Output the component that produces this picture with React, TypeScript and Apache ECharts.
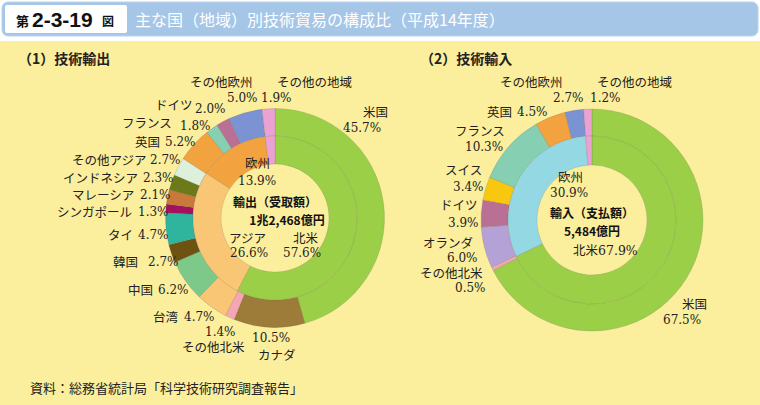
import React, { useEffect, useRef } from "react";
import * as echarts from "echarts";

// ---- data ----
const exportOuterNames = ["米国", "カナダ", "その他北米", "台湾", "中国", "韓国", "タイ", "シンガポール", "マレーシア", "インドネシア", "その他アジア", "英国", "フランス", "ドイツ", "その他欧州", "その他の地域"];
const exportOuterValues = [45.7, 10.5, 1.4, 4.7, 6.2, 2.7, 4.7, 1.3, 2.1, 2.3, 2.7, 5.2, 1.8, 2.0, 5.0, 1.9];
const exportInnerNames = ["北米", "アジア", "欧州", "その他の地域"];
const exportInnerValues = [57.6, 26.6, 13.9, 1.9];
const exportTotal = "1兆2,468億円";

const importOuterNames = ["米国", "その他北米", "オランダ", "ドイツ", "スイス", "フランス", "英国", "その他欧州", "その他の地域"];
const importOuterValues = [67.5, 0.5, 6.0, 3.9, 3.4, 10.3, 4.5, 2.7, 1.2];
const importInnerNames = ["北米", "欧州", "その他の地域"];
const importInnerValues = [67.9, 30.9, 1.2];
const importTotal = "5,484億円";

// ---- styles ----
const exportOuterColors = ["#9BCF47", "#9C7C38", "#F4A6B4", "#F9C676", "#7DC98A", "#6E5212", "#2FB49E", "#A2125E", "#C9793A", "#6C7A1A", "#DCF0DC", "#F2A23E", "#86CFB3", "#BA7095", "#7B93D2", "#EBA2D2"];
const exportInnerColors = ["#9BCF47", "#F9C676", "#F2A23E", "#EBA2D2"];
const importOuterColors = ["#9BCF47", "#F4A6B4", "#B4A2D6", "#BA7095", "#F8C810", "#86CFB3", "#F2A23E", "#7B93D2", "#EBA2D2"];
const importInnerColors = ["#9BCF47", "#94D8E4", "#EBA2D2"];

// label positions: [nameX, nameY, valueX, valueY]
const exportOuterLabelPos: number[][] = [
  [363, 112, 343, 128],
  [258, 355, 252, 338],
  [182, 347, 205, 332],
  [153, 317, 184, 317],
  [128, 290, 158, 290],
  [113, 262, 148, 262],
  [108, 235, 138, 235],
  [57, 212, 138, 212],
  [72, 195, 140, 195],
  [63, 178, 143, 178],
  [72, 160, 150, 160],
  [135, 142, 165, 142],
  [122, 123, 180, 126],
  [155, 105, 195, 109],
  [190, 82, 227, 98],
  [277, 82, 261, 98],
];
const exportInnerLabelPos: (number[] | null)[] = [
  [293, 238, 283, 253],
  [229, 238, 230, 253],
  [245, 163, 238, 181],
  null,
];
const importOuterLabelPos: number[][] = [
  [682, 304, 663, 320],
  [420, 273, 455, 288],
  [423, 243, 447, 258],
  [440, 205, 448, 223],
  [445, 170, 453, 187],
  [455, 131, 465, 147],
  [487, 112, 517, 112],
  [500, 82, 553, 98],
  [597, 82, 590, 98],
];

const LABEL_FONT = "'DejaVu Serif','Noto Sans CJK JP',serif";
const SANS_FONT = "'Noto Sans CJK JP','Noto Sans',sans-serif";
const LABEL_COLOR = "#222";

function txt(text: string, x: number, y: number, opts: any = {}) {
  const align = opts.align || "left";
  const fs = opts.fontSize || 12.5;
  return {
    type: "text",
    x,
    y,
    z: 100,
    silent: true,
    style: {
      text,
      fill: opts.fill || LABEL_COLOR,
      fontSize: fs,
      lineHeight: fs + 1,
      fontFamily: opts.fontFamily || LABEL_FONT,
      fontWeight: opts.fontWeight || "normal",
      textAlign: align,
      align,
      textVerticalAlign: "middle",
      verticalAlign: "middle",
    },
  };
}

const pct = (v: number) => `${v.toFixed(1)}%`;
const VAL = { fontSize: 12 };

function pieSeries(names: string[], values: number[], colors: string[], center: number[], radius: number[]) {
  return {
    type: "pie",
    center,
    radius,
    startAngle: 90,
    clockwise: true,
    silent: true,
    avoidLabelOverlap: false,
    label: { show: false },
    labelLine: { show: false },
    emphasis: { disabled: true },
    itemStyle: { borderColor: "rgba(90,90,90,0.35)", borderWidth: 0.5 },
    data: names.map((n, i) => ({ name: n, value: values[i], itemStyle: { color: colors[i] } })),
  };
}

export default function App() {
  const ref = useRef<HTMLDivElement>(null);
  useEffect(() => {
    if (!ref.current) return;
    const chart = echarts.init(ref.current, undefined, { renderer: "svg" });
    const centerStyle = { fontFamily: SANS_FONT, fontSize: 12, fontWeight: "bold", align: "center", fill: "#111" };

    const graphics: any[] = [
      { type: "rect", z: -10, silent: true, shape: { x: 0, y: 41, width: 760, height: 364 }, style: { fill: "#FBEE9C" } },
      { type: "rect", z: -10, silent: true, shape: { x: 2, y: 2, width: 756, height: 34, r: 6 }, style: { fill: "#A6C6E8", stroke: "#B8D4EE", lineWidth: 1 } },
      { type: "rect", z: -9, silent: true, shape: { x: 5, y: 5, width: 122, height: 28, r: 2 }, style: { fill: "#FFFFFF" } },
      txt("第", 16, 20, { fontFamily: SANS_FONT, fontSize: 13, fontWeight: "bold", fill: "#111" }),
      txt("2-3-19", 32, 19, { fontFamily: "'Liberation Sans',Arial,sans-serif", fontSize: 21, fontWeight: "bold", fill: "#111" }),
      txt("図", 102, 20, { fontFamily: SANS_FONT, fontSize: 12, fontWeight: "bold", fill: "#111" }),
      txt("主な国（地域）別技術貿易の構成比（平成14年度）", 135, 19, { fontFamily: SANS_FONT, fontSize: 16, fill: "#FFFFFF" }),
      txt("（1）技術輸出", 18, 58, { fontFamily: SANS_FONT, fontSize: 14, fontWeight: "bold", fill: "#222" }),
      txt("（2）技術輸入", 420, 58, { fontFamily: SANS_FONT, fontSize: 14, fontWeight: "bold", fill: "#222" }),
      txt("資料：総務省統計局「科学技術研究調査報告」", 30, 387, { fontFamily: SANS_FONT, fontSize: 13, fill: "#222" }),
      // centers
      txt("輸出（受取額）", 275, 201, centerStyle),
      txt(exportTotal, 287, 219, centerStyle),
      txt("輸入（支払額）", 592, 212, centerStyle),
      txt(importTotal, 592, 230, centerStyle),
    ];

    exportOuterNames.forEach((n, i) => {
      const p = exportOuterLabelPos[i];
      graphics.push(txt(n, p[0], p[1]));
      graphics.push(txt(pct(exportOuterValues[i]), p[2], p[3], VAL));
    });
    exportInnerNames.forEach((n, i) => {
      const p = exportInnerLabelPos[i];
      if (!p) return;
      graphics.push(txt(n, p[0], p[1]));
      graphics.push(txt(pct(exportInnerValues[i]), p[2], p[3], VAL));
    });
    importOuterNames.forEach((n, i) => {
      const p = importOuterLabelPos[i];
      graphics.push(txt(n, p[0], p[1]));
      graphics.push(txt(pct(importOuterValues[i]), p[2], p[3], VAL));
    });
    graphics.push(txt(importInnerNames[1], 558, 177));
    graphics.push(txt(pct(importInnerValues[1]), 550, 193, VAL));
    graphics.push(txt(`${importInnerNames[0]}${pct(importInnerValues[0])}`, 573, 250));

    chart.setOption({
      animation: false,
      backgroundColor: "#FFFFFF",
      graphic: { elements: graphics },
      series: [
        pieSeries(exportOuterNames, exportOuterValues, exportOuterColors, [275, 218], [82, 109.5]),
        pieSeries(exportInnerNames, exportInnerValues, exportInnerColors, [275, 218], [54, 82]),
        pieSeries(importOuterNames, importOuterValues, importOuterColors, [592, 220], [84, 111]),
        pieSeries(importInnerNames, importInnerValues, importInnerColors, [592, 220], [55, 84]),
      ],
    });
    return () => chart.dispose();
  }, []);
  return <div ref={ref} style={{ position: "fixed", left: 0, top: 0, width: 760, height: 405 }} />;
}
